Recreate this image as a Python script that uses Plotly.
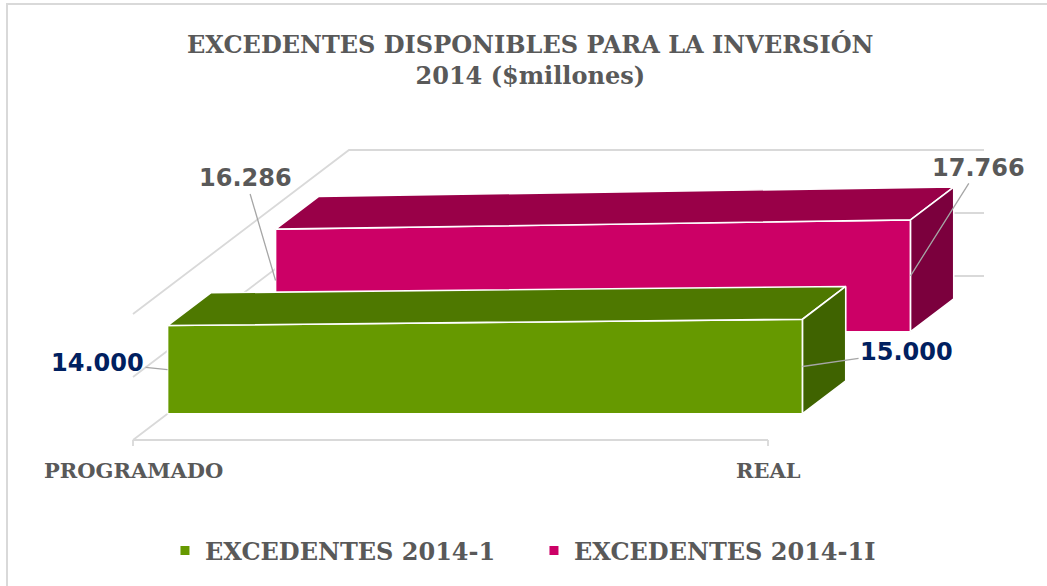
import plotly.graph_objects as go

# ---------------- data ----------------
categories = ["PROGRAMADO", "REAL"]
series_names = ["EXCEDENTES 2014-1", "EXCEDENTES 2014-1I"]
values_2014_1 = [14000, 15000]
values_2014_2 = [16286, 17766]
labels_2014_1 = ["14.000", "15.000"]
labels_2014_2 = ["16.286", "17.766"]
gridline_values = [0, 10000, 20000]
title_text = "EXCEDENTES DISPONIBLES PARA LA INVERSIÓN<br>2014 ($millones)"

# ---------------- pseudo-3D projection ----------------
W, H = 1047, 586
X0_PX, XSCALE = 133, 635       # pixel of category 0, pixels per category step
Y0_PX, YSCALE = 440, 0.0063    # pixel of value 0 (front), pixels per value unit
KX = 216 / XSCALE              # category units per unit depth
KY = 164 / YSCALE              # value units per unit depth


def P(c, v, d):
    return c + d * KX, v + d * KY


def poly(points):
    xs, ys = [], []
    for c, v, d in points:
        x, y = P(c, v, d)
        xs.append(x)
        ys.append(y)
    xs.append(xs[0])
    ys.append(ys[0])
    return xs, ys


fig = go.Figure()

GRID = "#D9D9D9"
# back wall gridlines and left-wall diagonals
for gv in gridline_values:
    xs, ys = zip(P(0, gv, 0), P(0, gv, 1), P(1, gv, 1))
    fig.add_trace(go.Scatter(x=xs, y=ys, mode="lines", line=dict(color=GRID, width=1.8),
                             hoverinfo="skip", showlegend=False))
# floor front edge
xs, ys = zip(P(0, 0, 0), P(1, 0, 0))
fig.add_trace(go.Scatter(x=xs, y=ys, mode="lines", line=dict(color=GRID, width=1.8),
                         hoverinfo="skip", showlegend=False))

series = [
    # values, depth front, depth back, front, top, side colours
    (values_2014_2, 0.66, 0.86, "#CC0066", "#990048", "#7B003D"),
    (values_2014_1, 0.16, 0.36, "#669900", "#4E7800", "#3F6300"),
]

for vals, d0, d1, cf, ct, cs in series:
    v0, v1 = vals
    faces = [
        ([(0, 0, d0), (0, v0, d0), (1, v1, d0), (1, 0, d0)], cf),
        ([(0, v0, d0), (1, v1, d0), (1, v1, d1), (0, v0, d1)], ct),
        ([(1, 0, d0), (1, v1, d0), (1, v1, d1), (1, 0, d1)], cs),
    ]
    for pts, col in faces:
        xs, ys = poly(pts)
        fig.add_trace(go.Scatter(x=xs, y=ys, mode="lines", fill="toself", fillcolor=col,
                                 line=dict(color="white", width=1.6),
                                 hoverinfo="skip", showlegend=False))

# legend entries
for name, col in zip(series_names, ["#669900", "#CC0066"]):
    fig.add_trace(go.Scatter(x=[None], y=[None], mode="markers", name=name,
                             marker=dict(symbol="square", size=9, color=col)))

annotations = []
# data labels with leader lines
label_offsets = {
    ("g", 0): (-70, -7), ("g", 1): (104, -15),
    ("p", 0): (-30, -102), ("p", 1): (68, -108),
}
for key, (vals, d0, labs, lc) in zip(
        ["p", "g"],
        [(values_2014_2, 0.66, labels_2014_2, "#595959"),
         (values_2014_1, 0.16, labels_2014_1, "#002060")]):
    for i, (v, t) in enumerate(zip(vals, labs)):
        x, y = P(i, v / 2, d0)
        ax, ay = label_offsets[(key, i)]
        annotations.append(dict(
            x=x, y=y, xref="x", yref="y", text=t, showarrow=True, arrowhead=0,
            arrowwidth=1.3, arrowcolor="#A6A6A6", ax=ax, ay=ay, standoff=0,
            font=dict(family="DejaVu Sans", size=24, color=lc, weight="bold")))

# category labels
for i, c in enumerate(categories):
    x, y = P(i, 0, 0)
    annotations.append(dict(x=x, y=y, xref="x", yref="y", text=c, showarrow=False,
                            yshift=-30,
                            font=dict(family="DejaVu Serif", size=21, color="#595959",
                                      weight="bold")))

# title
annotations.append(dict(x=530 / W, y=1 - 60 / H, xref="paper", yref="paper",
                        xanchor="center", yanchor="middle",
                        text=title_text, showarrow=False, align="center",
                        font=dict(family="DejaVu Serif", size=24, color="#595959",
                                  weight="bold")))

# tick marks
shapes = []
for i in range(len(categories)):
    x, y = P(i, 0, 0)
    shapes.append(dict(type="line", xref="x", yref="y", x0=x, x1=x, y0=y,
                       y1=y - 6 / YSCALE, line=dict(color=GRID, width=1.8)))
# chart area border
shapes.append(dict(type="rect", xref="paper", yref="paper", x0=7 / W, x1=1.05,
                   y0=-0.05, y1=1 - 4 / H, line=dict(color="#D9D9D9", width=2),
                   layer="below"))

fig.update_layout(
    width=W, height=H,
    margin=dict(l=0, r=0, t=0, b=0),
    paper_bgcolor="white", plot_bgcolor="white",
    xaxis=dict(visible=False, range=[-X0_PX / XSCALE, (W - X0_PX) / XSCALE],
               fixedrange=True),
    yaxis=dict(visible=False, range=[(Y0_PX - H) / YSCALE, Y0_PX / YSCALE],
               fixedrange=True),
    legend=dict(orientation="h", x=0.51, xanchor="center", y=1 - 551 / H,
                yanchor="middle", font=dict(family="DejaVu Serif", size=24,
                                             color="#595959", weight="bold"),
                itemwidth=30, entrywidth=324, entrywidthmode="pixels",
                bgcolor="rgba(0,0,0,0)"),
    annotations=annotations,
    shapes=shapes,
)

fig.write_html("out.html", config={"displayModeBar": False},
               post_script="document.body.style.margin='0px';")
